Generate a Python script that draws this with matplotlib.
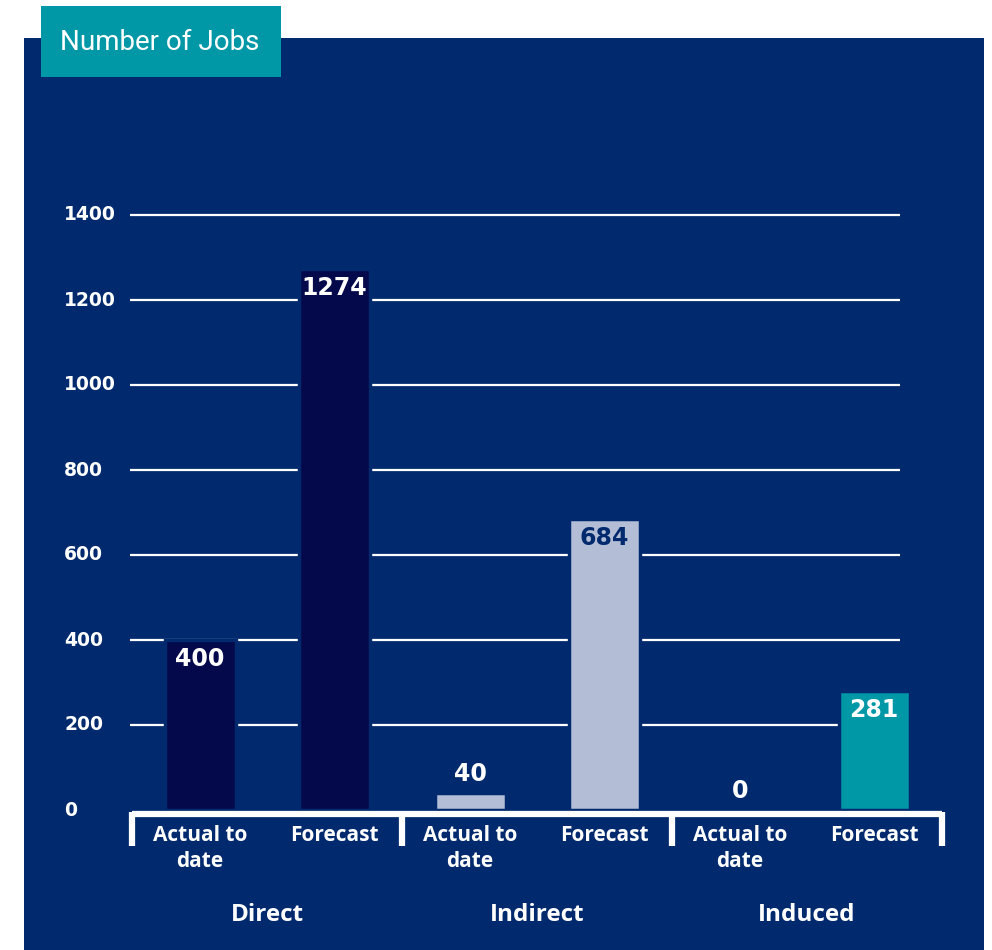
import matplotlib
matplotlib.use("Agg")
import matplotlib.pyplot as plt
from matplotlib.patches import Rectangle
import numpy as np

# Data
groups = ["Direct", "Indirect", "Induced"]
bar_labels = ["Actual to\ndate", "Forecast"]
actual = [400, 40, 0]
forecast = [1274, 684, 281]
y_ticks = [0, 200, 400, 600, 800, 1000, 1200, 1400]
title = "Number of Jobs"

# Style
NAVY = "#012a6e"
DARK = "#03094a"
LIGHT = "#b3bed6"
TEAL = "#0097a7"
WHITE = "#ffffff"
LABEL_FONT = ["Open Sans", "DejaVu Sans"]
NUM_FONT = ["DejaVu Sans"]
plt.rcParams["font.family"] = LABEL_FONT

W, H = 992, 950
fig = plt.figure(figsize=(W / 100, H / 100), dpi=100, facecolor="white")

# Panel geometry (pixels)
px_left, px_right, px_top, px_bottom = 24, 984, 38, 950
unit_px = 270.0            # pixels per group
g0_px = 267.0              # centre of first group
y0_px, y1400_px = 810.0, 215.0
ppv = (y0_px - y1400_px) / 1400.0

ax = fig.add_axes([px_left / W, 1 - px_bottom / H,
                   (px_right - px_left) / W, (px_bottom - px_top) / H])
ax.set_facecolor(NAVY)
ax.set_xlim((px_left - g0_px) / unit_px, (px_right - g0_px) / unit_px)
ax.set_ylim((y0_px - px_bottom) / ppv, (y0_px - px_top) / ppv)
for s in ax.spines.values():
    s.set_visible(False)
ax.set_xticks([])
ax.set_yticks([])

gx = np.arange(len(groups))
off = 67 / unit_px
bw = 71 / unit_px
grid_x0 = (130 - g0_px) / unit_px
grid_x1 = (900 - g0_px) / unit_px

# Gridlines (no line at zero)
for t in y_ticks[1:]:
    ax.plot([grid_x0, grid_x1], [t, t], color=WHITE, lw=1.6, zorder=1,
            solid_capstyle="butt")
# Y tick labels
label_x = (64 - g0_px) / unit_px
for t in y_ticks:
    ax.text(label_x, t, str(t), color=WHITE, fontsize=13.5, fontweight="bold",
            family=NUM_FONT, ha="left", va="center", zorder=3)

actual_colors = [DARK, LIGHT, LIGHT]
forecast_colors = [DARK, LIGHT, TEAL]
actual_text = [WHITE, NAVY, WHITE]
forecast_text = [WHITE, NAVY, WHITE]

ax.bar(gx - off, actual, width=bw, color=actual_colors, edgecolor=NAVY,
       linewidth=2.5, zorder=2)
ax.bar(gx + off, forecast, width=bw, color=forecast_colors, edgecolor=NAVY,
       linewidth=2.5, zorder=2)

inset = 19 / ppv
for xs, vals, tcols in [(gx - off, actual, actual_text), (gx + off, forecast, forecast_text)]:
    for x, v, c in zip(xs, vals, tcols):
        if v * ppv > 40:
            ax.text(x, v - inset, str(v), color=c, fontsize=17, fontweight="bold",
                    family=NUM_FONT, ha="center", va="center", zorder=4)
        else:
            ax.text(x, v + 7 / ppv, str(v), color=WHITE, fontsize=17,
                    fontweight="bold", family=NUM_FONT, ha="center",
                    va="bottom", zorder=4)

# Brackets under each group
br_y = -4 / ppv
br_drop = -36 / ppv
edges = np.arange(len(groups) + 1) - 0.5
ax.plot([edges[0], edges[-1]], [br_y, br_y], color=WHITE, lw=4.5,
        solid_capstyle="butt", zorder=3)
for e in edges:
    ax.plot([e, e], [br_y + 2.2 / ppv, br_drop], color=WHITE, lw=4.5,
            solid_capstyle="butt", zorder=3)

# Category labels
cat_y = -(825 - y0_px) / ppv
for g in gx:
    for x, lab in zip([g - off, g + off], bar_labels):
        ax.text(x, cat_y, lab, color=WHITE, fontsize=15, fontweight="bold",
                ha="center", va="top", linespacing=1.3, zorder=4)
    ax.text(g, -(915 - y0_px) / ppv, groups[g], color=WHITE, fontsize=17.5,
            fontweight="bold", ha="center", va="center", zorder=4)

# Title box
fig.patches.append(Rectangle((41 / W, 1 - 77 / H), 240 / W, 71 / H,
                             transform=fig.transFigure, facecolor=TEAL,
                             edgecolor="none", zorder=5))
fig.text(60 / W, 1 - 42 / H, title, color=WHITE, fontsize=20,
         family=["Roboto", "DejaVu Sans"], ha="left", va="center", zorder=6)

fig.savefig("out.png", dpi=100, facecolor="white")
